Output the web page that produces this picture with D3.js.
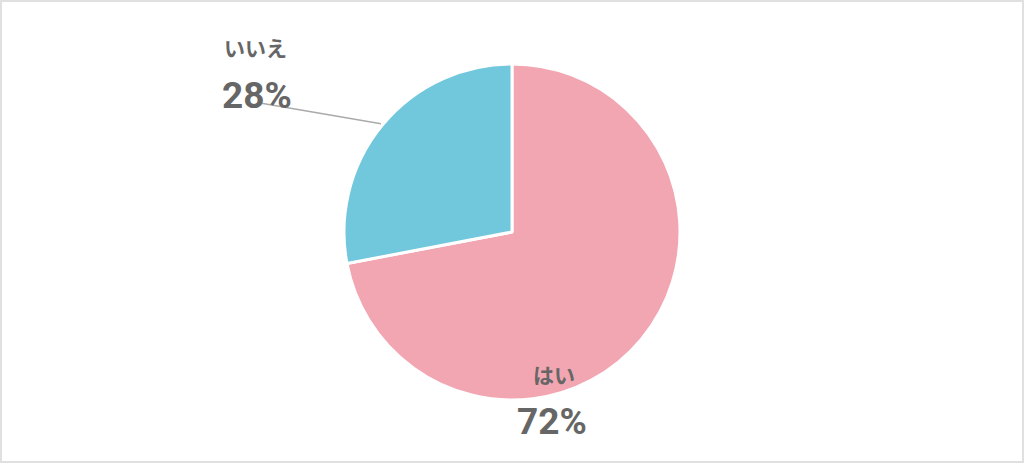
<!DOCTYPE html>
<html><head><meta charset="utf-8">
<script src="https://cdn.jsdelivr.net/npm/d3@7"></script>
<style>
html,body{margin:0;padding:0;background:#fff;}
svg{display:block;}
</style></head>
<body>
<svg id="c" width="1024" height="463"></svg>
<script>
const categories = ["はい", "いいえ"];
const values = [72, 28];
const colors = ["#f2a6b2", "#71c7db"];

const W = 1024, H = 463;
const cx = 512, cy = 232, R = 168;
const svg = d3.select("#c");

svg.append("rect").attr("x",1).attr("y",1).attr("width",W-2).attr("height",H-2)
  .attr("fill","#fff").attr("stroke","#e0e0e0").attr("stroke-width",2);

const pie = d3.pie().sort(null).value(d=>d)(values);
const arc = d3.arc().innerRadius(0).outerRadius(R);
const g = svg.append("g").attr("transform",`translate(${cx},${cy})`);
g.selectAll("path").data(pie).join("path")
  .attr("d",arc).attr("fill",(d,i)=>colors[i])
  .attr("stroke","#fff").attr("stroke-width",3).attr("stroke-linejoin","round");

const font = "'Noto Sans CJK JP', 'Noto Sans', sans-serif";
const numFont = "Roboto, 'Noto Sans', sans-serif";
const fmt = v => v + "%";

// Label layout (position constants)
const labelPos = [
  {nameX: 533, nameY: 383, valX: 517, valY: 434, leader: false},
  {nameX: 224, nameY: 56, valX: 222, valY: 108, leader: true, lineEnd: [260, 103]}
];

pie.forEach((d,i)=>{
  const p = labelPos[i];
  if (p.leader) {
    const mid = (d.startAngle + d.endAngle)/2;
    const r0 = R + 2;
    svg.append("line")
      .attr("x1", cx + r0*Math.sin(mid)).attr("y1", cy - r0*Math.cos(mid))
      .attr("x2", p.lineEnd[0]).attr("y2", p.lineEnd[1])
      .attr("stroke","#aaaaaa").attr("stroke-width",1.5);
  }
  svg.append("text").attr("x",p.nameX).attr("y",p.nameY)
    .attr("font-family",font).attr("font-weight","bold").attr("font-size",21)
    .attr("fill","#666").text(categories[i]);
  svg.append("text").attr("x",p.valX).attr("y",p.valY)
    .attr("font-family",numFont).attr("font-weight","bold").attr("font-size",37)
    .attr("fill","#666").text(fmt(values[i]));
});
</script>
</body></html>
